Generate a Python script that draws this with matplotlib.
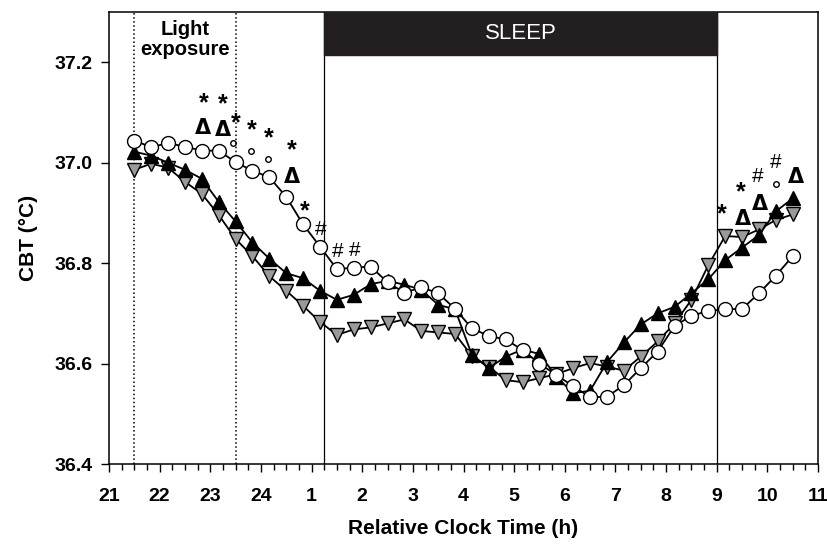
import matplotlib.pyplot as plt
import numpy as np

# 20-min bins starting 21:30, plotted on a continuous clock (25 = 01:00 next day)
hours = 21.5 + np.arange(40) / 3

# CBT (deg C), one value per bin
cbt_open = [37.044, 37.031, 37.039, 37.032, 37.024, 37.024, 37.001, 36.984, 36.971, 36.932,
            36.877, 36.833, 36.788, 36.791, 36.793, 36.762, 36.741, 36.752, 36.740, 36.709,
            36.670, 36.655, 36.648, 36.627, 36.600, 36.577, 36.555, 36.533, 36.534, 36.557,
            36.591, 36.624, 36.675, 36.695, 36.705, 36.708, 36.709, 36.740, 36.775, 36.814]
cbt_black = [37.022, 37.014, 37.000, 36.986, 36.968, 36.922, 36.883, 36.841, 36.809, 36.780,
             36.770, 36.745, 36.727, 36.737, 36.758, 36.765, 36.757, 36.747, 36.717, 36.708,
             36.617, 36.591, 36.614, 36.628, 36.619, 36.574, 36.541, 36.546, 36.603, 36.642,
             36.678, 36.700, 36.713, 36.740, 36.768, 36.806, 36.831, 36.856, 36.903, 36.929]
cbt_grey = [36.986, 36.998, 36.990, 36.962, 36.938, 36.896, 36.848, 36.814, 36.774, 36.745,
            36.715, 36.683, 36.657, 36.668, 36.672, 36.680, 36.688, 36.665, 36.662, 36.659,
            36.615, 36.594, 36.567, 36.563, 36.571, 36.579, 36.591, 36.601, 36.594, 36.586,
            36.614, 36.644, 36.680, 36.727, 36.796, 36.854, 36.852, 36.867, 36.886, 36.897]

# significance marks: (time, height, symbol)
sig_marks = [(22.876, 37.127, '*'), (23.245, 37.125, '*'), (22.86, 37.069, 'Δ'), (23.245, 37.065, 'Δ'),
             (23.51, 37.087, '*'), (23.455, 37.040, 'o'), (23.82, 37.072, '*'), (23.80, 37.024, 'o'),
             (24.146, 37.057, '*'), (24.146, 37.007, 'o'), (24.608, 37.032, '*'), (24.608, 36.971, 'Δ'),
             (24.863, 36.912, '*'), (25.18, 36.866, '#'), (25.52, 36.823, '#'), (25.845, 36.825, '#'),
             (33.09, 36.906, '*'), (33.47, 36.949, '*'), (33.52, 36.887, 'Δ'), (33.80, 36.972, '#'),
             (33.855, 36.918, 'Δ'), (34.17, 37.000, '#'), (34.17, 36.957, 'o'), (34.57, 36.972, 'Δ')]

light_on, light_off = 21.5, 23.5
sleep_on, sleep_off = 25.25, 33.0
tick_hours = list(range(21, 36))
tick_names = ['21', '22', '23', '24', '1', '2', '3', '4', '5', '6', '7', '8', '9', '10', '11']

plt.rcParams['font.family'] = ['Liberation Sans', 'DejaVu Sans']

fig = plt.figure(figsize=(8.28, 5.47), dpi=100)
ax = fig.add_axes([0.1316, 0.1517, 0.8564, 0.8263])

ax.plot(hours, cbt_grey, color='black', lw=1.3, marker='v', ms=10, mfc='#9a9a9a', mec='black', mew=1.0, zorder=3)
ax.plot(hours, cbt_black, color='black', lw=1.3, marker='^', ms=10, mfc='black', mec='black', zorder=4)
ax.plot(hours, cbt_open, color='black', lw=1.3, marker='o', ms=10, mfc='white', mec='black', mew=1.0, zorder=5)

for x, y, s in sig_marks:
    if s == 'o':
        ax.plot(x, y, marker='o', ms=4, mfc='white', mec='black', mew=1.0)
    elif s == '*':
        # asterisk glyph sits high in its box, so nudge it down
        ax.text(x, y - 0.008, s, ha='center', va='center', fontsize=18, fontweight='bold')
    elif s == 'Δ':
        ax.text(x, y, s, ha='center', va='center', fontsize=15, fontweight='bold', family=['DejaVu Sans'])
    else:
        ax.text(x, y, s, ha='center', va='center', fontsize=15)

ax.axvline(light_on, color='black', ls=':', lw=1.1)
ax.axvline(light_off, color='black', ls=':', lw=1.1)
ax.axvline(sleep_on, color='black', lw=0.9)
ax.axvline(sleep_off, color='black', lw=0.9)
ax.fill_between([sleep_on, sleep_off], 37.214, 37.3, color='#231f20', zorder=6)
ax.text((sleep_on + sleep_off) / 2, 37.257, 'SLEEP', color='white', ha='center', va='center',
        fontsize=16, zorder=7)
ax.text((light_on + light_off) / 2, 37.245, 'Light\nexposure', ha='center', va='center',
        fontsize=14.5, fontweight='bold', linespacing=1.05)

ax.set_xlim(21, 35)
ax.set_ylim(36.4, 37.3)
ax.set_xticks(tick_hours)
ax.set_xticklabels(tick_names)
ax.set_xticks(np.arange(21, 35.01, 0.25), minor=True)
ax.set_yticks([36.4, 36.6, 36.8, 37.0, 37.2])
ax.set_yticklabels(['36.4', '36.6', '36.8', '37.0', '37.2'])
ax.tick_params(axis='both', which='major', direction='out', length=6, width=1, labelsize=14, pad=6)
ax.tick_params(axis='x', which='major', pad=11)
ax.tick_params(axis='x', which='minor', direction='out', length=4, width=1)
for lab in ax.get_xticklabels() + ax.get_yticklabels():
    lab.set_fontweight('bold')
for sp in ax.spines.values():
    sp.set_linewidth(1.1)

ax.set_xlabel('Relative Clock Time (h)', fontsize=15, fontweight='bold', labelpad=10)
ax.set_ylabel('CBT (°C)', fontsize=15, fontweight='bold', labelpad=12)

fig.savefig('out.png', dpi=100)
